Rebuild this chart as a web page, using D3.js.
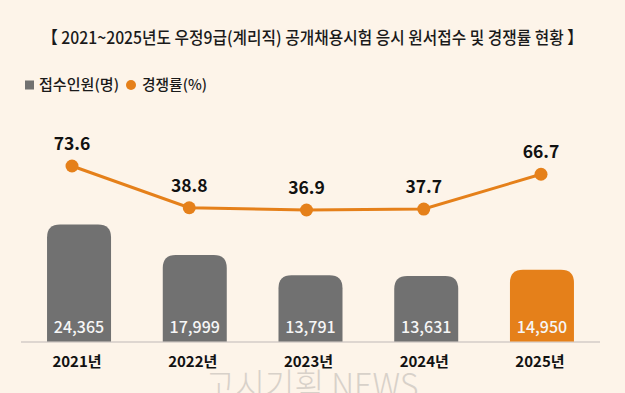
<!DOCTYPE html>
<html>
<meta charset="utf-8">
<style>
body {
  margin: 0;
  background: #fdf4e9;
  font-family: "Noto Sans CJK KR", "Noto Sans", sans-serif;
}
.bars text {
  fill: #f6f6f6;
  font-size: 16px;
  font-weight: 500;
}
.years text {
  fill: #111;
  font-size: 15px;
  font-weight: 700;
}
.rate-labels text {
  fill: #111;
  font-size: 17.5px;
  font-weight: 700;
}
</style>
<body>
<svg width="625" height="393"></svg>
<script src="https://cdn.jsdelivr.net/npm/d3@7/dist/d3.min.js"></script>
<script>

var years = ["2021년", "2022년", "2023년", "2024년", "2025년"];
var applicants = [24365, 17999, 13791, 13631, 14950];
var rates = [73.6, 38.8, 36.9, 37.7, 66.7];

var svg = d3.select("svg"),
    width = +svg.attr("width"),
    height = +svg.attr("height");

svg.append("rect")
    .attr("width", width)
    .attr("height", height)
    .attr("fill", "#fdf4e9");

// title
svg.append("text")
    .attr("x", 42)
    .attr("y", 44)
    .attr("textLength", 541)
    .attr("lengthAdjust", "spacingAndGlyphs")
    .attr("font-size", 17)
    .attr("font-weight", 500)
    .attr("fill", "#1a1a1a")
    .text("【 2021~2025년도 우정9급(계리직) 공개채용시험 응시 원서접수 및 경쟁률 현황 】");

// legend
var legend = svg.append("g").attr("font-size", 14.5).attr("font-weight", 500).attr("fill", "#1a1a1a");
legend.append("rect")
    .attr("x", 25).attr("y", 80.5)
    .attr("width", 9).attr("height", 9)
    .attr("fill", "#717171");
legend.append("text")
    .attr("x", 39).attr("y", 90)
    .attr("textLength", 80)
    .attr("lengthAdjust", "spacingAndGlyphs")
    .text("접수인원(명)");
legend.append("circle")
    .attr("cx", 131).attr("cy", 85).attr("r", 5)
    .attr("fill", "#e5801a");
legend.append("text")
    .attr("x", 142).attr("y", 90)
    .attr("textLength", 65)
    .attr("lengthAdjust", "spacingAndGlyphs")
    .text("경쟁률(%)");

// scales
var x = d3.scaleBand()
    .domain(years)
    .range([21, 600])
    .paddingInner(0.447)
    .paddingOuter(0.225);

var xLine = d3.scalePoint()
    .domain(years)
    .range([72, 541]);

var y = d3.scaleLinear()
    .domain([0, 30000])
    .range([341.5, 197.4]);

var yRate = d3.scaleLinear()
    .domain([0, 80])
    .range([254.3, 158.3]);

// watermark
svg.append("text")
    .attr("x", 312)
    .attr("y", 398)
    .attr("text-anchor", "middle")
    .attr("font-size", 34)
    .attr("font-weight", 300)
    .attr("fill", "#d8d1c9")
    .attr("textLength", 213)
    .attr("lengthAdjust", "spacingAndGlyphs")
    .text("고시기획 NEWS");

function topRounded(x0, y0, w, h, r) {
  r = Math.min(r, h);
  return "M" + x0 + "," + (y0 + h) +
    "V" + (y0 + r) +
    "Q" + x0 + "," + y0 + " " + (x0 + r) + "," + y0 +
    "H" + (x0 + w - r) +
    "Q" + (x0 + w) + "," + y0 + " " + (x0 + w) + "," + (y0 + r) +
    "V" + (y0 + h) + "Z";
}

var data = years.map(function(d, i) {
  return {year: d, n: applicants[i], rate: rates[i], last: i === years.length - 1};
});

// baseline
svg.append("line")
    .attr("x1", 21).attr("x2", 600)
    .attr("y1", y(0) + 0.5).attr("y2", y(0) + 0.5)
    .attr("stroke", "#d3cdc7")
    .attr("stroke-width", 1.5);

var bars = svg.append("g").attr("class", "bars");

bars.selectAll("path")
    .data(data)
    .enter().append("path")
      .attr("d", function(d) {
        return topRounded(x(d.year), y(d.n), x.bandwidth(), y(0) - y(d.n), 13);
      })
      .attr("fill", function(d) { return d.last ? "#e5801a" : "#717171"; });

bars.selectAll("text")
    .data(data)
    .enter().append("text")
      .attr("x", function(d) { return x(d.year) + x.bandwidth() / 2; })
      .attr("y", 333)
      .attr("text-anchor", "middle")
      .text(function(d) { return d3.format(",")(d.n); });

svg.append("g").attr("class", "years")
  .selectAll("text")
  .data(data)
  .enter().append("text")
    .attr("x", function(d) { return x(d.year) + x.bandwidth() / 2 - 2; })
    .attr("y", 367)
    .attr("text-anchor", "middle")
    .text(function(d) { return d.year; });

// rate line
var line = d3.line()
    .x(function(d) { return xLine(d.year); })
    .y(function(d) { return yRate(d.rate); });

svg.append("path")
    .datum(data)
    .attr("d", line)
    .attr("fill", "none")
    .attr("stroke", "#e5801a")
    .attr("stroke-width", 3);

svg.append("g")
  .selectAll("circle")
  .data(data)
  .enter().append("circle")
    .attr("cx", function(d) { return xLine(d.year); })
    .attr("cy", function(d) { return yRate(d.rate); })
    .attr("r", 6.5)
    .attr("fill", "#e5801a");

svg.append("g").attr("class", "rate-labels")
  .selectAll("text")
  .data(data)
  .enter().append("text")
    .attr("x", function(d) { return xLine(d.year); })
    .attr("y", function(d) { return yRate(d.rate) - 16; })
    .attr("text-anchor", "middle")
    .text(function(d) { return d.rate.toFixed(1); });

</script>
</body>
</html>
